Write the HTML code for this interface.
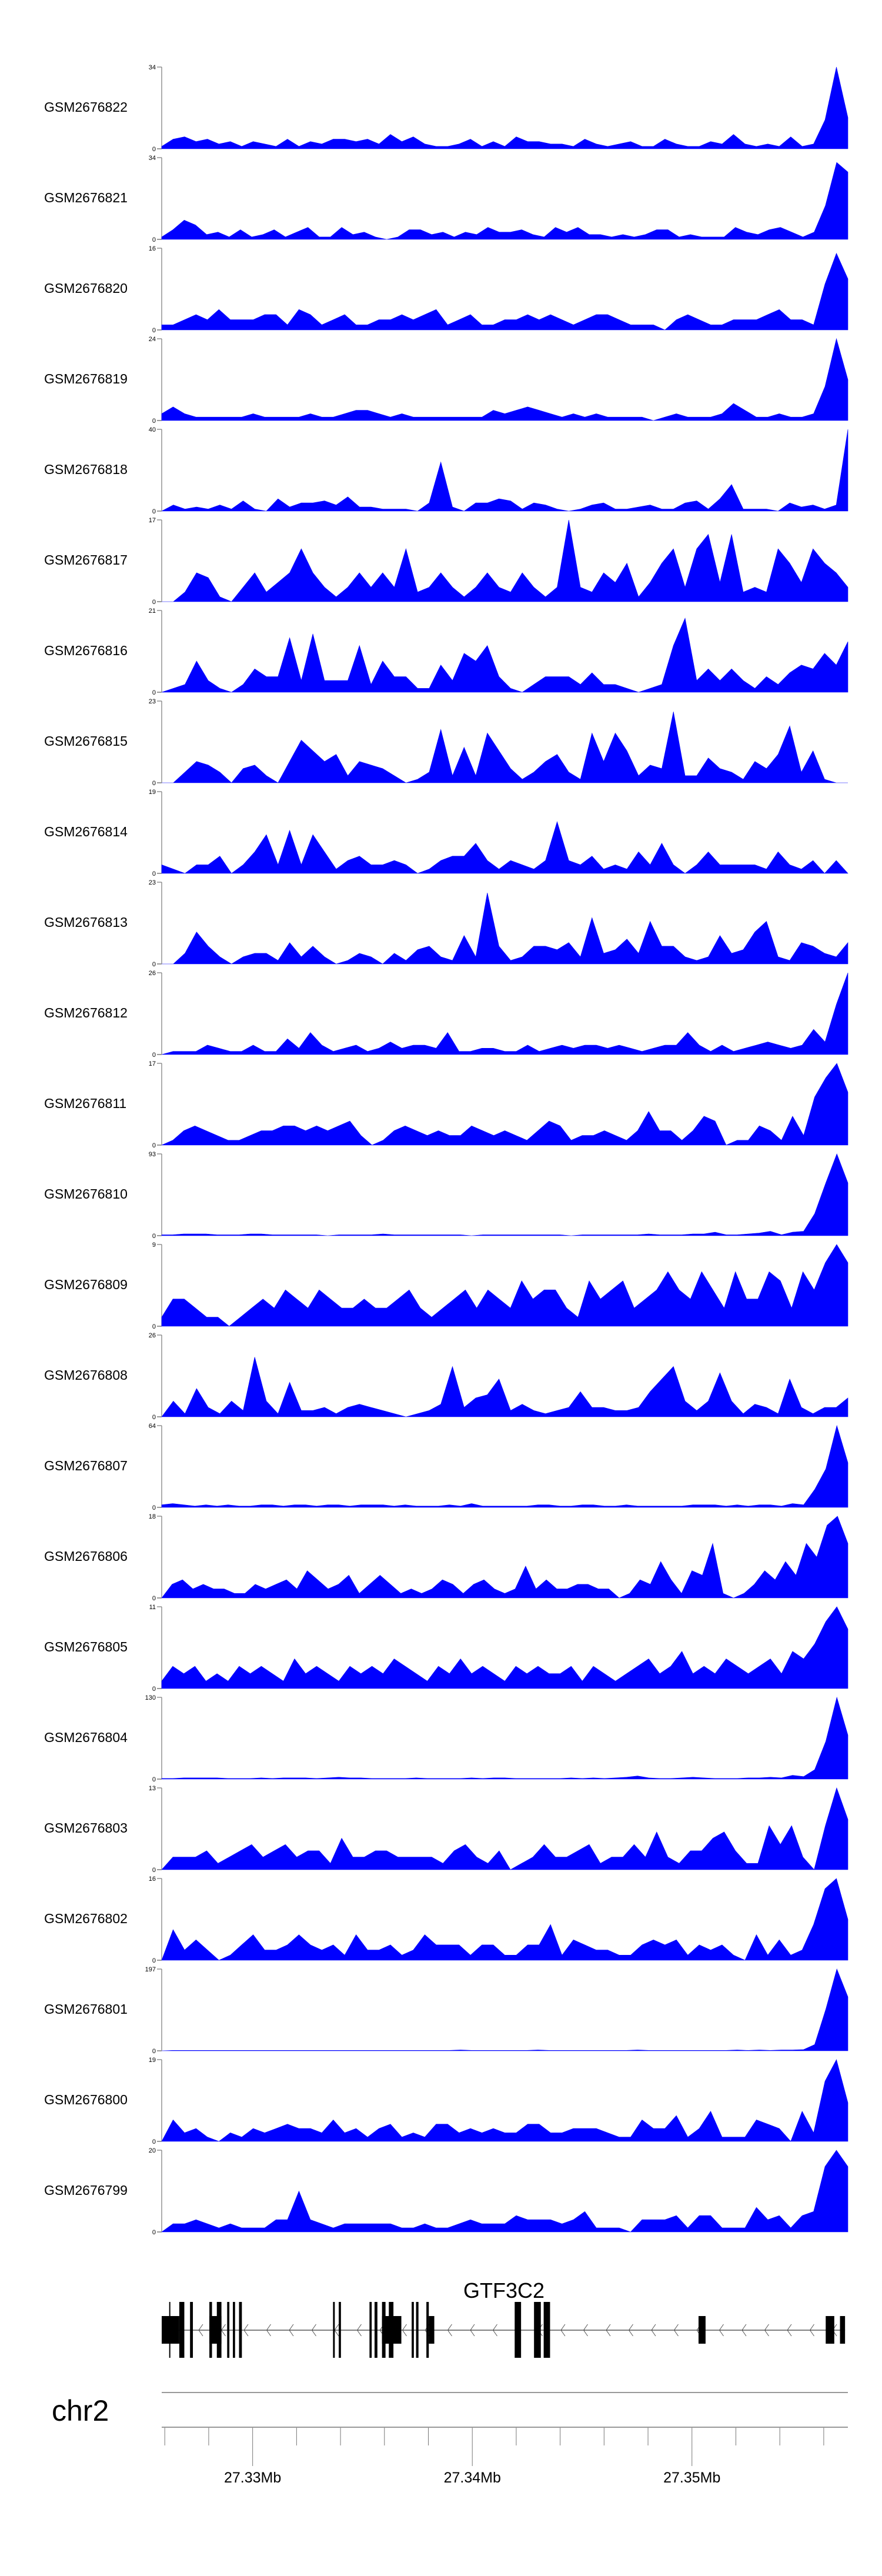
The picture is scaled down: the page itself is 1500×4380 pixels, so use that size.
<!DOCTYPE html>
<html><head><meta charset="utf-8"><style>
html,body{margin:0;padding:0;background:#fff}
svg{display:block}
text{font-family:"Liberation Sans",Arial,sans-serif}
</style></head><body>
<svg id="chart" width="1500" height="4380" viewBox="0 0 1500 4380" xmlns="http://www.w3.org/2000/svg">
<rect width="1500" height="4380" fill="#fff"/>
<g id="tracks"></g>
<g id="gene"></g>
<g id="axis"></g>
</svg>
<script>
const sampleNames = ["GSM2676822","GSM2676821","GSM2676820","GSM2676819","GSM2676818","GSM2676817","GSM2676816","GSM2676815","GSM2676814","GSM2676813","GSM2676812","GSM2676811","GSM2676810","GSM2676809","GSM2676808","GSM2676807","GSM2676806","GSM2676805","GSM2676804","GSM2676803","GSM2676802","GSM2676801","GSM2676800","GSM2676799"];
const yMaxLabels = [34,34,16,24,40,17,21,23,19,23,26,17,93,9,26,64,18,11,130,13,16,197,19,20];
const s822 = [1,4,5,3,4,2,3,1,3,2,1,4,1,3,2,4,4,3,4,2,6,3,5,2,1,1,2,4,1,3,1,5,3,3,2,2,1,4,2,1,2,3,1,1,4,2,1,1,3,2,6,2,1,2,1,5,1,2,12,34,13];
const s821 = [1,4,8,6,2,3,1,4,1,2,4,1,3,5,1,1,5,2,3,1,0,1,4,4,2,3,1,3,2,5,3,3,4,2,1,5,3,5,2,2,1,2,1,2,4,4,1,2,1,1,1,5,3,2,4,5,3,1,3,14,32,28];
const s820 = [1,1,2,3,2,4,2,2,2,3,3,1,4,3,1,2,3,1,1,2,2,3,2,3,4,1,2,3,1,1,2,2,3,2,3,2,1,2,3,3,2,1,1,1,0,2,3,2,1,1,2,2,2,3,4,2,2,1,9,15,10];
const s819 = [2,4,2,1,1,1,1,1,2,1,1,1,1,2,1,1,2,3,3,2,1,2,1,1,1,1,1,1,1,3,2,3,4,3,2,1,2,1,2,1,1,1,1,0,1,2,1,1,1,2,5,3,1,1,2,1,1,2,10,24,12];
const s818 = [0,3,1,2,1,3,1,5,1,0,6,2,4,4,5,3,7,2,2,1,1,1,0,4,24,2,0,4,4,6,5,1,4,3,1,0,1,3,4,1,1,2,3,1,1,4,5,1,6,13,1,1,1,0,4,2,3,1,3,40];
const s817 = [0,0,2,6,5,1,0,3,6,2,4,6,11,6,3,1,3,6,3,6,3,11,2,3,6,3,1,3,6,3,2,6,3,1,3,17,3,2,6,4,8,1,4,8,11,3,11,14,4,14,2,3,2,11,8,4,11,8,6,3];
const s816 = [0,1,2,8,3,1,0,2,6,4,4,14,3,15,3,3,3,12,2,8,4,4,1,1,7,3,10,8,12,4,1,0,2,4,4,4,2,5,2,2,1,0,1,2,12,19,3,6,3,6,3,1,4,2,5,7,6,10,7,13];
const s815 = [0,0,3,6,5,3,0,4,5,2,0,6,12,9,6,8,2,6,5,4,2,0,1,3,15,2,10,2,14,9,4,1,3,6,8,3,1,14,6,14,9,2,5,4,20,2,2,7,4,3,1,6,4,8,16,3,9,1,0,0];
const s814 = [2,1,0,2,2,4,0,2,5,9,2,10,2,9,5,1,3,4,2,2,3,2,0,1,3,4,4,7,3,1,3,2,1,3,12,3,2,4,1,2,1,5,2,7,2,0,2,5,2,2,2,2,1,5,2,1,3,0,3,0];
const s813 = [0,0,3,9,5,2,0,2,3,3,1,6,2,5,2,0,1,3,2,0,3,1,4,5,2,1,8,2,20,5,1,2,5,5,4,6,2,13,3,4,7,3,12,5,5,2,1,2,8,3,4,9,12,2,1,6,5,3,2,6];
const s812 = [0,1,1,1,3,2,1,1,3,1,1,5,2,7,3,1,2,3,1,2,4,2,3,3,2,7,1,1,2,2,1,1,3,1,2,3,2,3,3,2,3,2,1,2,3,3,7,3,1,3,1,2,3,4,3,2,3,8,4,16,26];
const s811 = [0,1,3,4,3,2,1,1,2,3,3,4,4,3,4,3,4,5,2,0,1,3,4,3,2,3,2,2,4,3,2,3,2,1,3,5,4,1,2,2,3,2,1,3,7,3,3,1,3,6,5,0,1,1,4,3,1,6,2,10,14,17,11];
const s810 = [1,1,2,2,2,1,1,1,2,2,1,1,1,1,1,0,1,1,1,1,2,1,1,1,1,1,1,1,0,1,1,1,1,1,1,1,1,0,1,1,1,1,1,1,2,1,1,1,2,2,4,1,1,2,3,5,1,4,5,25,60,93,60];
const s809 = [1,3,3,2,1,1,0,1,2,3,2,4,3,2,4,3,2,2,3,2,2,3,4,2,1,2,3,4,2,4,3,2,5,3,4,4,2,1,5,3,4,5,2,3,4,6,4,3,6,4,2,6,3,3,6,5,2,6,4,7,9,7];
const s808 = [0,5,1,9,3,1,5,2,19,5,1,11,2,2,3,1,3,4,3,2,1,0,1,2,4,16,3,6,7,12,2,4,2,1,2,3,8,3,3,2,2,3,8,12,16,5,2,5,14,5,1,4,3,1,12,3,1,3,3,6];
const s807 = [2,3,2,1,2,1,2,1,1,2,2,1,2,2,1,2,2,1,2,2,2,1,2,1,1,1,2,1,3,1,1,1,1,1,2,2,1,1,2,2,1,1,2,1,1,1,1,1,2,2,2,1,2,1,2,2,1,3,2,14,30,64,35];
const s806 = [0,3,4,2,3,2,2,1,1,3,2,3,4,2,6,4,2,3,5,1,3,5,3,1,2,1,2,4,3,1,3,4,2,1,2,7,2,4,2,2,3,3,2,2,0,1,4,3,8,4,1,6,5,12,1,0,1,3,6,4,8,5,12,9,16,18,12];
const s805 = [1,3,2,3,1,2,1,3,2,3,2,1,4,2,3,2,1,3,2,3,2,4,3,2,1,3,2,4,2,3,2,1,3,2,3,2,2,3,1,3,2,1,2,3,4,2,3,5,2,3,2,4,3,2,3,4,2,5,4,6,9,11,8];
const s804 = [1,1,2,2,2,2,1,1,1,2,1,2,2,2,1,2,3,2,2,1,1,1,1,2,1,1,1,1,2,1,2,2,1,1,1,1,1,2,1,2,1,2,3,5,2,1,1,2,3,2,1,1,1,2,2,3,2,6,4,15,60,130,70];
const s803 = [0,2,2,2,3,1,2,3,4,2,3,4,2,3,3,1,5,2,2,3,3,2,2,2,2,1,3,4,2,1,3,0,1,2,4,2,2,3,4,1,2,2,4,2,6,2,1,3,3,5,6,3,1,1,7,4,7,2,0,7,13,8];
const s802 = [0,6,2,4,2,0,1,3,5,2,2,3,5,3,2,3,1,5,2,2,3,1,2,5,3,3,3,1,3,3,1,1,3,3,7,1,4,3,2,2,1,1,3,4,3,4,1,3,2,3,1,0,5,1,4,1,2,7,14,16,8];
const s801 = [0,1,1,1,1,1,1,1,1,1,1,1,1,1,1,1,1,1,1,1,1,1,1,1,1,1,1,2,1,1,1,1,1,1,2,1,1,1,1,1,1,1,1,2,1,1,1,1,1,1,1,1,2,1,2,1,2,2,3,15,100,197,130];
const s800 = [0,5,2,3,1,0,2,1,3,2,3,4,3,3,2,5,2,3,1,3,4,1,2,1,4,4,2,3,2,3,2,2,4,4,2,2,3,3,3,2,1,1,5,3,3,6,1,3,7,1,1,1,5,4,3,0,7,2,14,19,9];
const s799 = [0,2,2,3,2,1,2,1,1,1,3,3,10,3,2,1,2,2,2,2,2,1,1,2,1,1,2,3,2,2,2,4,3,3,3,2,3,5,1,1,1,0,3,3,3,4,1,4,4,1,1,1,6,3,4,1,4,5,16,20,16];
const seriesValues = [s822,s821,s820,s819,s818,s817,s816,s815,s814,s813,s812,s811,s810,s809,s808,s807,s806,s805,s804,s803,s802,s801,s800,s799];

// gene model: exon [startKb, endKb] relative to 27.33 Mb
const utrExons = [[-4.14,-3.34],[-1.97,-1.42],[5.89,6.77],[8.02,8.27],[20.30,20.62],[26.09,26.48],[26.74,26.97]];
const cdsExons = [[-3.80,-3.75],[-3.34,-3.11],[-2.85,-2.72],[-1.97,-1.85],[-1.63,-1.42],[-1.16,-1.06],[-0.90,-0.80],[-0.62,-0.49],[3.66,3.74],[3.92,4.02],[5.32,5.42],[5.55,5.68],[5.89,6.05],[6.20,6.41],[7.24,7.34],[7.44,7.55],[7.91,8.02],[11.93,12.22],[12.81,13.12],[13.25,13.54]];
const geneSpan = [-4.14, 26.97];
const axisTickKb = [-4,-2,0,2,4,6,8,10,12,14,16,18,20,22,24,26];
const axisMajorKb = [0,10,20];
const axisMajorLabels = ["27.33Mb","27.34Mb","27.35Mb"];

const NS = "http://www.w3.org/2000/svg";
const X0 = 275, X1 = 1442, KB0 = -4.14, KB1 = 27.10;
const xKb = kb => X0 + (kb - KB0) / (KB1 - KB0) * (X1 - X0);
function mk(tag, attrs, parent, txt){
  const e = document.createElementNS(NS, tag);
  for (const k in attrs) e.setAttribute(k, attrs[k]);
  if (txt !== undefined) e.textContent = txt;
  parent.appendChild(e);
  return e;
}
const tracksG = document.getElementById('tracks');
const TOP0 = 114, PITCH = 154, H = 139;
sampleNames.forEach((name, i) => {
  const top = TOP0 + i * PITCH, base = top + H;
  const g = mk('g', {}, tracksG);
  
  
  const lab = mk('text', {x: 75, y: top + 76, 'font-size': 23, fill: '#000'}, g, name);
  
  
  const ax = mk('line', {x1: X0, y1: top, x2: X0, y2: base, stroke: '#777', 'stroke-width': 1.2}, g);
  
  
  mk('line', {x1: X0 - 8, y1: top, x2: X0, y2: top, stroke: '#777', 'stroke-width': 1.2}, g);
  mk('line', {x1: X0 - 8, y1: base, x2: X0, y2: base, stroke: '#999', 'stroke-width': 2}, g);
  const tmax = mk('text', {x: X0 - 10, y: top + 4, 'font-size': 11, 'text-anchor': 'end', fill: '#000'}, g, String(yMaxLabels[i]));
  
  
  const tz = mk('text', {x: X0 - 10, y: base + 4, 'font-size': 11, 'text-anchor': 'end', fill: '#000'}, g, '0');
  
  
  const vals = seriesValues[i], n = vals.length, ymax = yMaxLabels[i];
  const xs = j => X0 + j * (X1 - X0) / (n - 1);
  const ys = v => base - Math.min(v, ymax) / ymax * H;
  let d = 'M' + X0 + ',' + base;
  vals.forEach((v, j) => { d += ' L' + xs(j).toFixed(1) + ',' + ys(v).toFixed(1); });
  d += ' L' + X1 + ',' + base + ' Z';
  const p = mk('path', {d: d, fill: '#0000ff', stroke: '#0000ff', 'stroke-width': 0.6}, g);
  
  
});

// gene track
const geneG = document.getElementById('gene');
const gl = mk('text', {x: 857, y: 3907, 'font-size': 36, 'text-anchor': 'middle'}, geneG, 'GTF3C2');


const intron = mk('line', {x1: xKb(geneSpan[0]), y1: 3962, x2: xKb(geneSpan[1]), y2: 3962, stroke: '#000', 'stroke-width': 1}, geneG);


for (let x = xKb(geneSpan[0]) + 66; x < xKb(geneSpan[1]) - 6; x += 38.5) {
  const c = mk('polyline', {points: (x+4)+',3952 '+(x-3)+',3962 '+(x+4)+',3972', fill: 'none', stroke: '#555', 'stroke-width': 1}, geneG);
  
  
}
utrExons.forEach(e => {
  const r = mk('rect', {x: xKb(e[0]), y: 3938, width: Math.max(2, xKb(e[1]) - xKb(e[0])), height: 47, fill: '#000'}, geneG);
  
  
});
cdsExons.forEach(e => {
  const r = mk('rect', {x: xKb(e[0]), y: 3914, width: Math.max(2, xKb(e[1]) - xKb(e[0])), height: 95, fill: '#000'}, geneG);
  
  
});

// axis
const axG = document.getElementById('axis');
const chr = mk('text', {x: 88, y: 4116, 'font-size': 50}, axG, 'chr2');


const ideo = mk('line', {x1: X0, y1: 4068, x2: X1, y2: 4068, stroke: '#999', 'stroke-width': 2}, axG);


const al = mk('line', {x1: X0, y1: 4127, x2: X1, y2: 4127, stroke: '#999', 'stroke-width': 2}, axG);


axisTickKb.forEach(kb => {
  const major = axisMajorKb.indexOf(kb) >= 0;
  const t = mk('line', {x1: xKb(kb), y1: 4128, x2: xKb(kb), y2: major ? 4193 : 4158, stroke: '#777', 'stroke-width': 1}, axG);
  
  
});
axisMajorKb.forEach((kb, k) => {
  const t = mk('text', {x: xKb(kb), y: 4221, 'font-size': 25, 'text-anchor': 'middle'}, axG, axisMajorLabels[k]);
  
  
});
</script>
</body></html>
